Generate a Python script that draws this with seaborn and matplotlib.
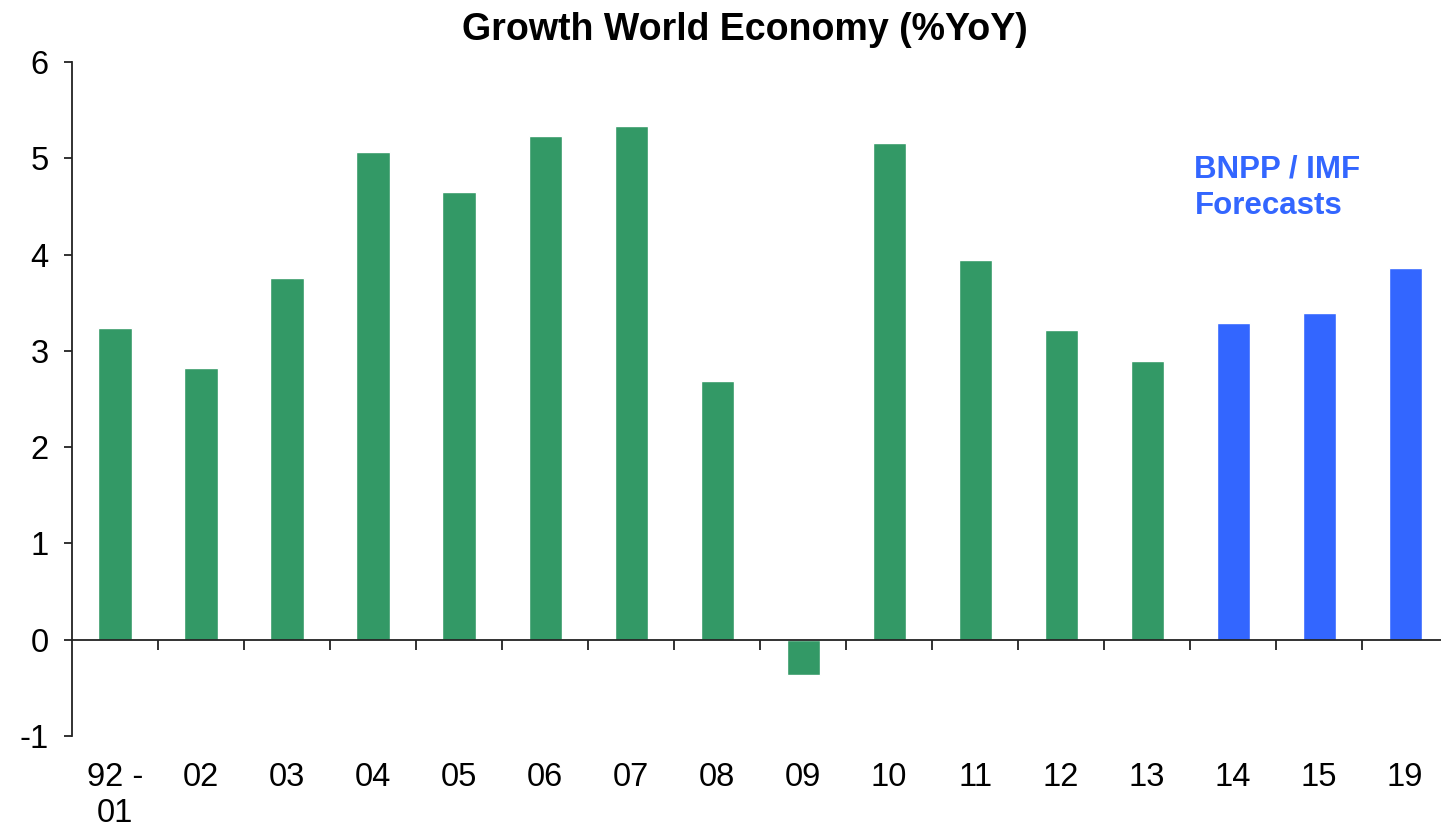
import pandas as pd
import matplotlib.pyplot as plt
import seaborn as sns

# values
years = ["92 -\n01", "02", "03", "04", "05", "06", "07", "08", "09",
         "10", "11", "12", "13", "14", "15", "19"]
growth = [3.24, 2.82, 3.76, 5.07, 4.65, 5.23, 5.34, 2.69, -0.37,
          5.16, 3.94, 3.22, 2.90, 3.29, 3.39, 3.86]
kind = ["Actual"] * 13 + ["Forecast"] * 3

df = pd.DataFrame({"Year": years, "Growth": growth, "Kind": kind})

sns.set_style("ticks")
plt.rcParams["font.family"] = ["Liberation Sans", "DejaVu Sans"]
plt.rcParams["axes.unicode_minus"] = False

fig = plt.figure(figsize=(14.41, 8.27), dpi=100)
ax = fig.add_axes([0.04997, 0.110, 0.955, 0.815])

sns.barplot(data=df, x="Year", y="Growth", hue="Kind", dodge=False,
            palette={"Actual": "#339966", "Forecast": "#3366FF"},
            width=0.385, saturation=1, legend=False, ax=ax)

ax.set_xlim(-0.5, 15.5)
ax.set_ylim(-1, 6)
ax.set_yticks(range(-1, 7))
ax.set_xlabel("")
ax.set_ylabel("")

# x axis line at zero, ticks between categories, labels at the bottom
ax.spines["bottom"].set_position(("data", 0))
for s in ["top", "right"]:
    ax.spines[s].set_visible(False)
for s in ["left", "bottom"]:
    ax.spines[s].set_color("#222222")
    ax.spines[s].set_linewidth(1.3)

ax.set_xticks([i + 0.5 for i in range(15)], minor=True)
ax.tick_params(axis="x", which="major", bottom=True, length=0, pad=88,
               labelsize=23.5, labelcolor="black")
ax.tick_params(axis="x", which="minor", bottom=True, direction="out",
               length=7, width=1.3, color="#222222")
ax.tick_params(axis="y", left=True, direction="out", length=6, width=1.3,
               color="#222222", pad=11, labelsize=23.5, labelcolor="black")

ax.text(12.55, 5.04, "BNPP / IMF\nForecasts", color="#3366FF",
        fontsize=22.5, fontweight="bold", ha="left", va="top",
        linespacing=1.3)

fig.suptitle("Growth World Economy (%YoY)", x=0.517, y=0.964, va="center",
             fontsize=27, fontweight="bold", color="black")

fig.savefig("out.png", dpi=100)
